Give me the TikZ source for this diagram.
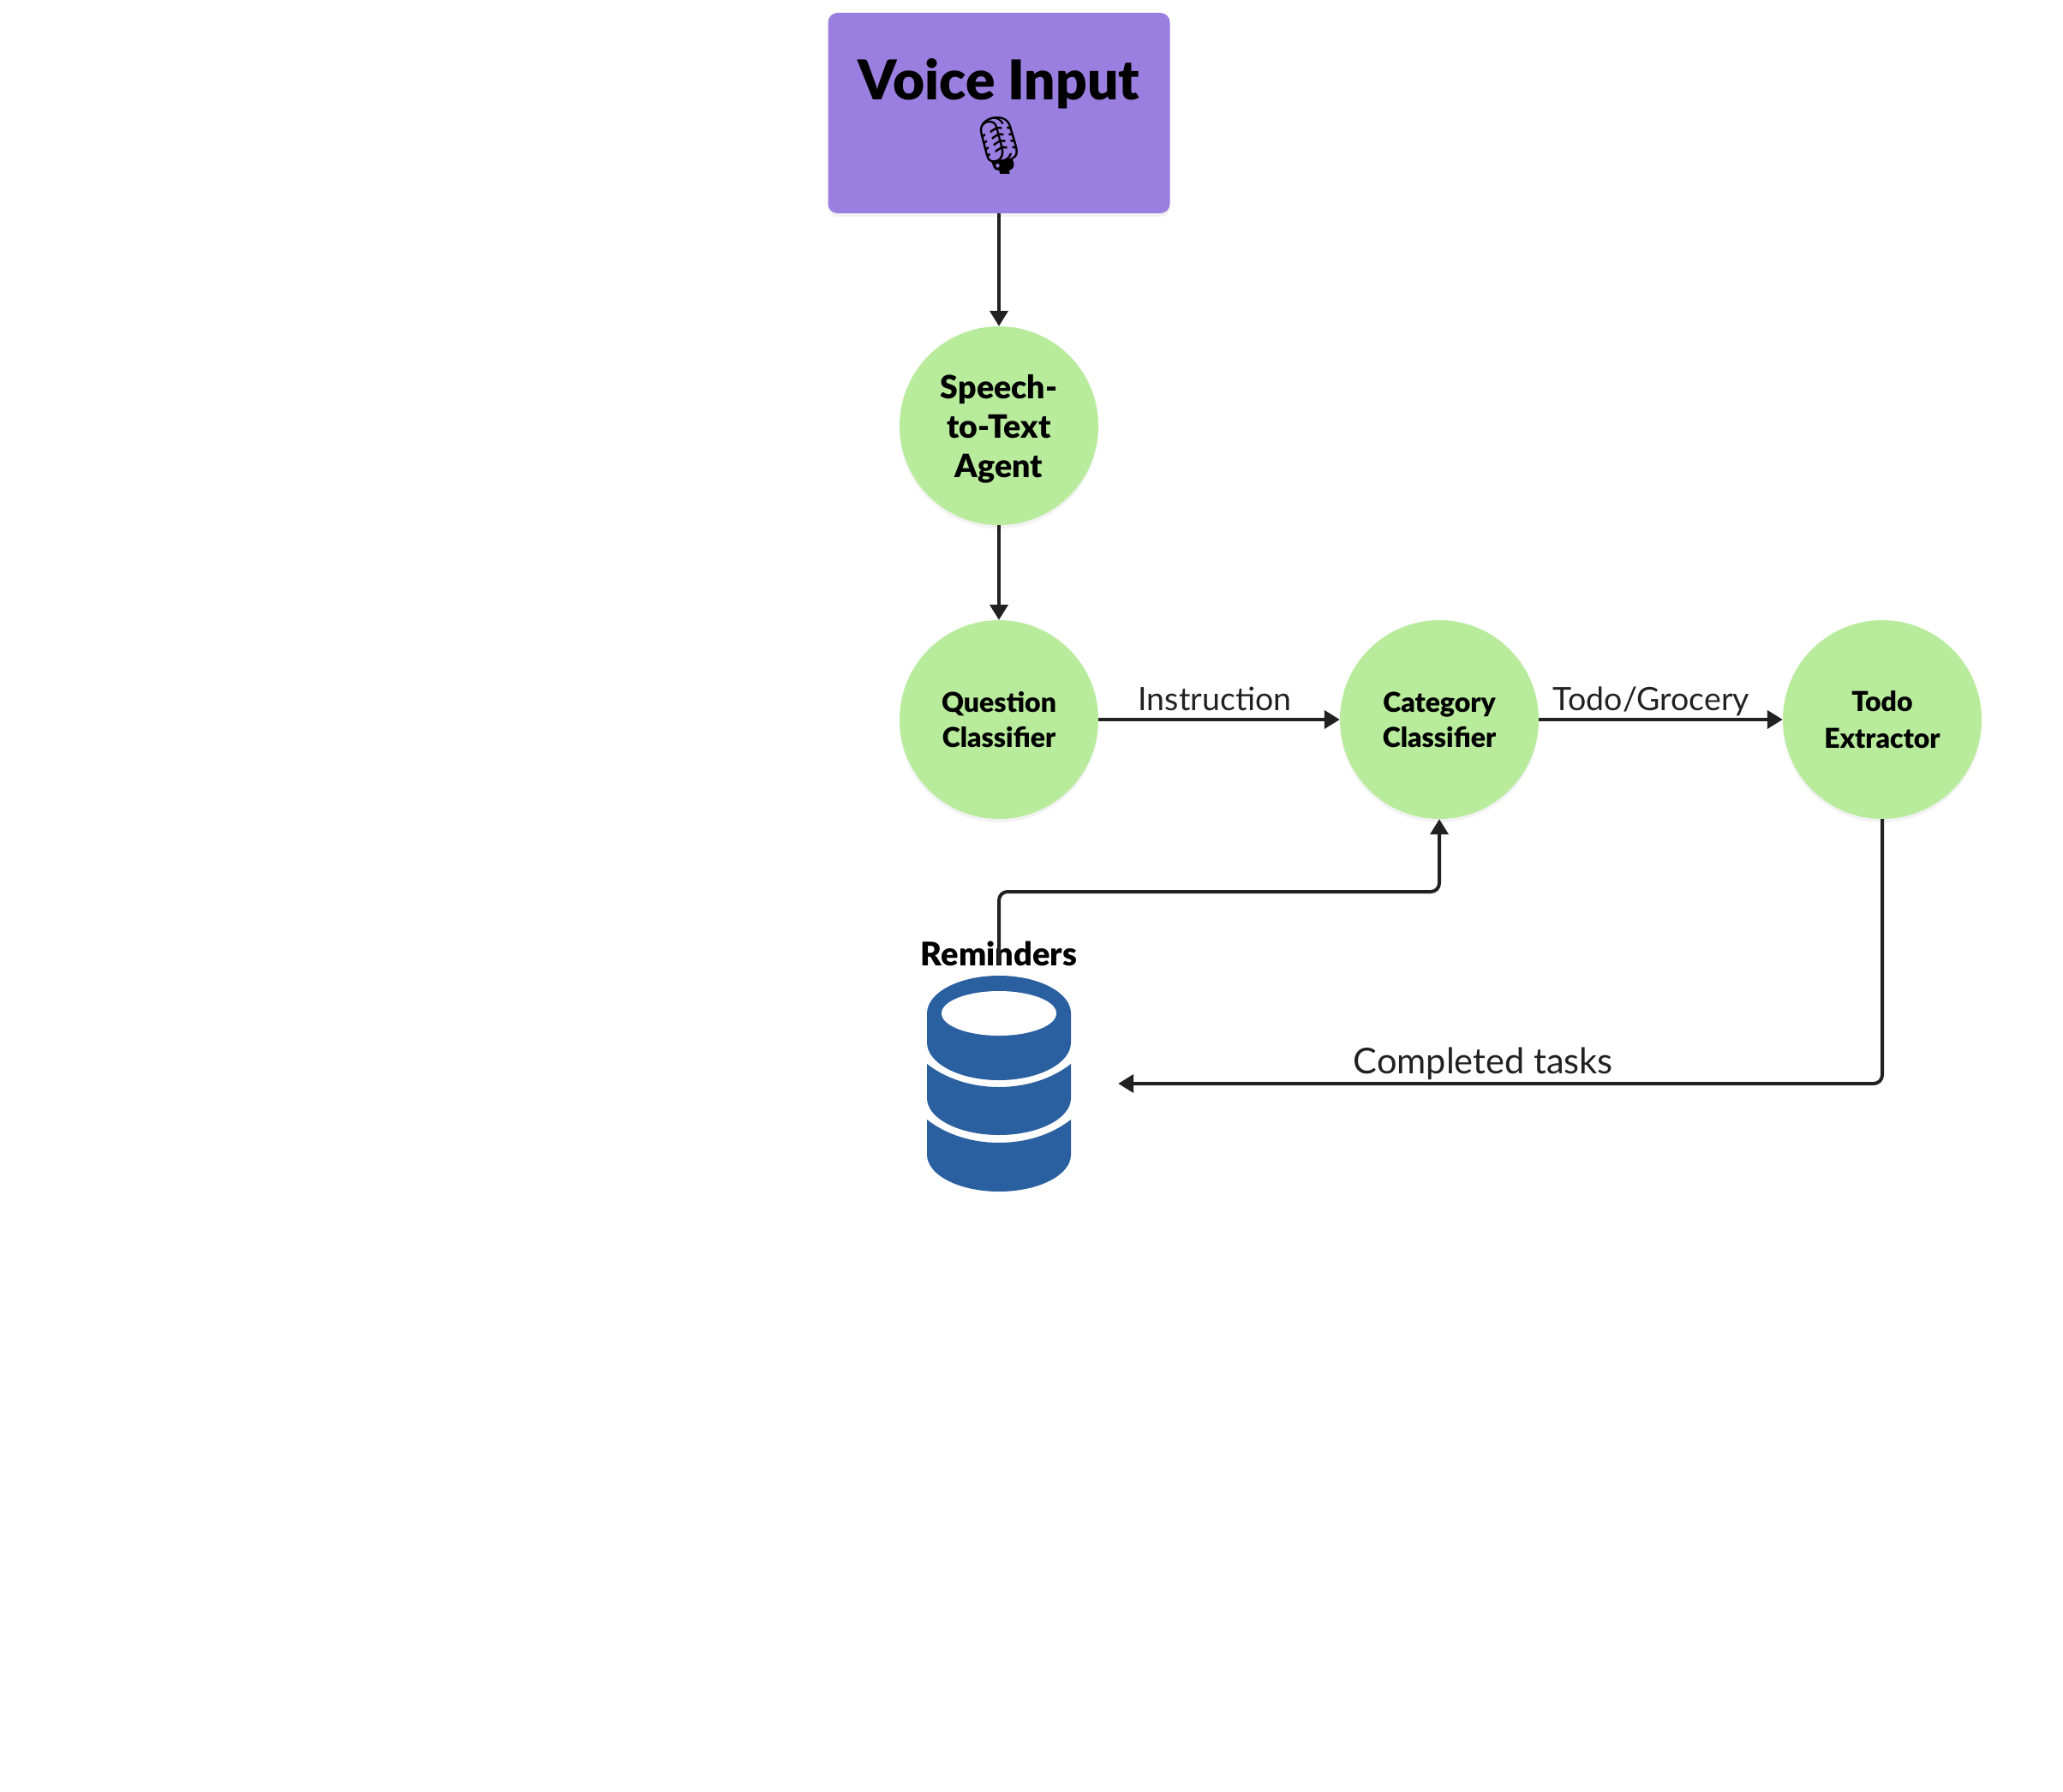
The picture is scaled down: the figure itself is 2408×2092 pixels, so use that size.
\documentclass[tikz,border=0pt]{standalone}
\usepackage{fontspec}
\setmainfont[BoldFont={Lato Black}]{Lato}
\newfontfamily\emojifont{Noto Emoji}
\usetikzlibrary{arrows.meta, shadows}
\definecolor{inputfill}{HTML}{9B7FE0}
\definecolor{agentfill}{HTML}{B8EC9C}
\definecolor{linedark}{HTML}{212121}
\definecolor{dbblue}{HTML}{2A5FA0}
\tikzset{
    softshadow/.style={drop shadow={shadow xshift=0pt, shadow yshift=-4pt,
        opacity=.05, fill=black}},
    inputbox/.style={rectangle, rounded corners=11pt, fill=inputfill, softshadow,
        minimum width=399pt, minimum height=234pt, inner sep=0pt, align=center,
        font=\bfseries\fontsize{64}{74}\selectfont},
    agent/.style={circle, fill=agentfill, softshadow, minimum size=232pt,
        inner sep=0pt, align=center},
    agentbig/.style={agent, font=\bfseries\fontsize{37.5}{46}\selectfont},
    agentsmall/.style={agent, font=\bfseries\fontsize{32}{41}\selectfont},
    flow/.style={draw=linedark, line width=4pt, rounded corners=10pt,
        -{Triangle[length=18pt, width=21pt]}},
    edgetext/.style={inner sep=0pt, anchor=base, text=linedark,
        font=\fontsize{37.5}{42}\selectfont},
    dbimage/.style={minimum size=278pt, inner sep=0pt},
}
\begin{document}
\begin{tikzpicture}[x=1pt, y=1pt]
    \useasboundingbox (0, 0) rectangle (2408, -2092);
    \node[inputbox] (voice) at (1166, -132) {\rule{0pt}{55pt}Voice Input\\[2pt]{\emojifont\fontsize{66}{74}\selectfont 🎙}};
    \node[agentbig] (speech) at (1166, -497) {\rule{0pt}{35pt}Speech-\\to-Text\\Agent};
    \node[agentsmall] (question) at (1166, -840) {Question\\Classifier};
    \node[agentsmall] (category) at (1680, -840) {Category\\Classifier};
    \node[agentsmall, font=\bfseries\fontsize{32}{43}\selectfont] (todo) at (2197, -840) {Todo\\Extractor};
    \node[dbimage] (reminders) at (1166, -1265) {};
    % database icon, three stacked slices
    \fill[dbblue] (1082, -1183) arc[x radius=84, y radius=44, start angle=180, end angle=0]
        -- (1250, -1217) arc[x radius=84, y radius=44, start angle=0, end angle=-180] -- cycle;
    \fill[white] (1166, -1183) circle[x radius=67, y radius=26];
    \foreach \ytop/\yside in {1242/1282, 1307/1348} {
        \fill[dbblue] (1082, -\ytop) .. controls (1105, -\ytop-18) and (1135, -\ytop-27) .. (1166, -\ytop-27)
            .. controls (1197, -\ytop-27) and (1227, -\ytop-18) .. (1250, -\ytop)
            -- (1250, -\yside) arc[x radius=84, y radius=43, start angle=0, end angle=-180] -- cycle;
    }
    \node[inner sep=0pt, font=\bfseries\fontsize{38}{42}\selectfont] (reminderslabel) at (1166, -1113) {Reminders};
    \draw[flow] (voice) -- (speech);
    \draw[flow] (speech) -- (question);
    \draw[flow] (question) -- (category) node[edgetext, pos=.5, xshift=-5pt, yshift=11pt] (instruction) {Instruction};
    \draw[flow] (category) -- (todo) node[edgetext, pos=.5, xshift=-11pt, yshift=11pt] (grocery) {Todo/Grocery};
    \coordinate (elbow) at (1680, -1041);
    \draw[flow] (reminders.north) |- (elbow) -- (category.south);
    \draw[flow] (todo.south) |- (reminders.east) node[edgetext, pos=.76, xshift=-2pt, yshift=12pt, font=\fontsize{41.5}{48}\selectfont] (completed) {Completed tasks};
\end{tikzpicture}
\end{document}
